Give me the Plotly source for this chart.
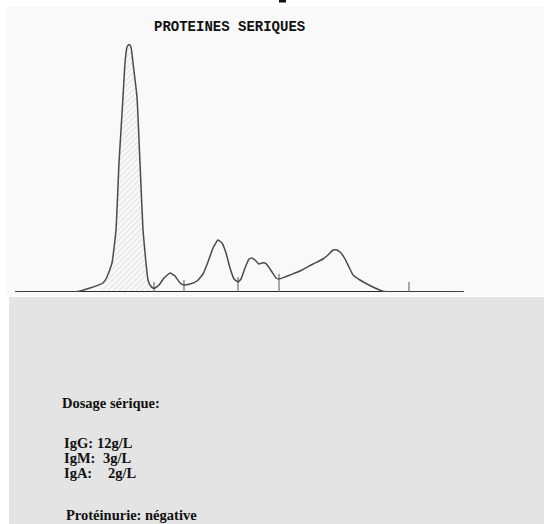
import plotly.graph_objects as go

# Densitometric trace (mobility position, relative density above baseline)
mobility = [15, 75, 90, 103, 107, 112, 116, 119, 121, 123, 125, 127, 129, 131, 133, 137, 140, 143, 146, 148, 150, 153,
            155, 159, 164, 170, 175, 180, 184, 190, 197, 203, 208, 213, 218, 222, 226, 230, 234, 238,
            241, 245, 249, 252, 256, 259, 262, 265, 268, 272, 276, 279, 285, 290, 300, 313, 323, 328,
            333, 337, 341, 345, 349, 353, 360, 367, 375, 382, 387, 464]
density = [0, 0, 4, 9, 15, 29, 62, 129, 162, 195, 229, 245, 248, 245, 229, 195, 129, 62, 29, 12, 7, 4,
           4, 7, 14, 19, 16, 9, 7, 8, 11, 18, 30, 44, 52, 49, 39, 24, 13, 10,
           13, 24, 33, 34, 31, 28, 29, 29, 26, 20, 14, 13, 15, 17, 21, 28, 33, 37,
           42, 42, 39, 33, 25, 17, 12, 8, 4, 1, 0, 0]

# Fraction separators (position, height)
sep_x = [154, 184, 238, 279, 409]
sep_h = [10, 12, 15, 18, 10]

# Albumin fraction range (hatched)
alb_start, alb_end = 100, 153

title = "PROTEINES SERIQUES"
dosage_title = "Dosage sérique:"
ig_names = ["IgG:", "IgM:", "IgA:"]
ig_values = ["12g/L", "3g/L", "2g/L"]
proteinurie = "Protéinurie: négative"

W, H = 544, 524
fig = go.Figure()

# albumin hatched fill
ax = [x for x in mobility if alb_start <= x <= alb_end]
ay = [d for x, d in zip(mobility, density) if alb_start <= x <= alb_end]
fig.add_trace(go.Scatter(x=ax, y=ay, mode="lines", fill="tozeroy",
                         line=dict(width=0, color="rgba(0,0,0,0)", shape="spline", smoothing=0.35),
                         fillcolor="rgba(0,0,0,0)",
                         fillpattern=dict(shape="/", fgcolor="#c4c4c4", bgcolor="rgba(0,0,0,0)",
                                          size=4, solidity=0.25),
                         hoverinfo="skip", showlegend=False))

# baseline
fig.add_trace(go.Scatter(x=[mobility[0], mobility[-1]], y=[0, 0], mode="lines",
                         line=dict(color="#2b2b2b", width=2.2), hoverinfo="skip", showlegend=False))

# separators
sx, sy = [], []
for x, h in zip(sep_x, sep_h):
    sx += [x, x, None]
    sy += [0, h, None]
fig.add_trace(go.Scatter(x=sx, y=sy, mode="lines", line=dict(color="#666666", width=1.1),
                         hoverinfo="skip", showlegend=False))

# trace
fig.add_trace(go.Scatter(x=mobility, y=density, mode="lines",
                         line=dict(color="#4a4a4a", width=1.5, shape="spline", smoothing=0.35),
                         hoverinfo="skip", showlegend=False))

def px(x):
    return x / W

def py(y):
    return 1 - y / H

shapes = [
    dict(type="rect", xref="paper", yref="paper", x0=px(7), x1=1, y0=py(296), y1=py(7),
         fillcolor="#f9f9f9", line=dict(width=0), layer="below"),
    dict(type="rect", xref="paper", yref="paper", x0=px(9), x1=1, y0=0, y1=py(297),
         fillcolor="#e4e4e4", line=dict(width=0), layer="below"),
    dict(type="rect", xref="paper", yref="paper", x0=px(279), x1=px(286), y0=py(2.5), y1=1,
         fillcolor="#111111", line=dict(width=0), layer="below"),
]

serif = "Liberation Serif"
ann = [
    dict(text="<b>%s</b>" % title, x=px(229), y=py(27), xanchor="center", yanchor="middle",
         font=dict(family="Liberation Mono", size=14, color="#111111")),
    dict(text="<b>%s</b>" % dosage_title, x=px(60), y=py(403), xanchor="left", yanchor="middle",
         font=dict(family=serif, size=14.5, color="#111111")),
    dict(text="<b>%s</b>" % proteinurie, x=px(64), y=py(515), xanchor="left", yanchor="middle",
         font=dict(family=serif, size=14.5, color="#111111")),
]
ig_y = [443, 458, 473]
ig_vx = [95, 101, 106]
for name, val, yy, vx in zip(ig_names, ig_values, ig_y, ig_vx):
    ann.append(dict(text="<b>%s</b>" % name, x=px(62), y=py(yy), xanchor="left", yanchor="middle",
                    font=dict(family=serif, size=14.5, color="#111111")))
    ann.append(dict(text="<b>%s</b>" % val, x=px(vx), y=py(yy), xanchor="left", yanchor="middle",
                    font=dict(family=serif, size=14.5, color="#111111")))
for a in ann:
    a.update(xref="paper", yref="paper", showarrow=False)

fig.update_layout(
    width=W, height=H, margin=dict(l=0, r=0, t=0, b=0),
    paper_bgcolor="white", plot_bgcolor="rgba(0,0,0,0)",
    shapes=shapes, annotations=ann, showlegend=False,
    xaxis=dict(range=[15, 464], domain=[15 / W, 464 / W], visible=False, fixedrange=True),
    yaxis=dict(range=[0, 248], domain=[(H - 292) / H, (H - 44) / H], visible=False, fixedrange=True),
)
fig.write_html("out.html", config={"displayModeBar": False},
               post_script="document.body.style.margin='0';document.body.style.overflow='hidden';")
